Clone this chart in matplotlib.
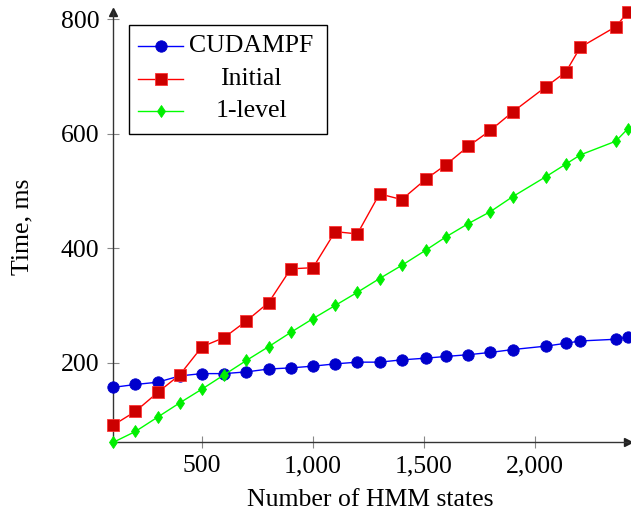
import matplotlib
matplotlib.use("Agg")
import matplotlib.pyplot as plt
from matplotlib.lines import Line2D
from matplotlib.patches import Rectangle
from matplotlib.ticker import FuncFormatter

# ---- data ----
states = [100, 200, 300, 400, 500, 600, 700, 800, 900, 1000, 1100, 1200, 1300,
          1400, 1510, 1600, 1700, 1800, 1900, 2050, 2140, 2205, 2365, 2420]
cudampf = [157, 162, 166, 177, 181, 181, 184, 189, 191, 194, 198, 201, 201,
           205, 208, 211, 214, 218, 223, 229, 234, 238, 241, 245]
initial = [91, 115, 148, 179, 228, 244, 273, 305, 364, 366, 429, 425, 495,
           485, 521, 546, 578, 606, 638, 682, 708, 751, 787, 813]
level1 = [61, 80, 105, 130, 154, 179, 204, 228, 253, 277, 300, 323, 347,
          370, 397, 420, 443, 464, 490, 525, 547, 563, 587, 609]
series_names = ["CUDAMPF", "Initial", "1-level"]
xticks = [500, 1000, 1500, 2000]
yticks = [200, 400, 600, 800]

plt.rcParams['font.family'] = ['Liberation Serif', 'DejaVu Serif']
FS = 18.5

W, H = 631, 516
fig = plt.figure(figsize=(W / 100, H / 100), dpi=100)
ax = fig.add_axes([113.3 / W, 1 - 442.3 / H, (628 - 113.3) / W, (442.3 - 11.8) / H])

styles = [
    dict(color='#0000FF', marker='o', ms=8.2, mfc='#0000CC', mec='#0000CC'),
    dict(color='#FF0000', marker='s', ms=8.2, mfc='#CC0000', mec='#FF3333'),
    dict(color='#00FF00', marker='d', ms=6.2, mfc='#00EE00', mec='#00EE00'),
]
for ys, st in zip([cudampf, initial, level1], styles):
    ax.plot(states, ys, lw=1.0, clip_on=False, zorder=3, mew=0.6, **st)

ax.set_xlim(100, 2420)
ax.set_ylim(61, 813)
ax.set_xticks(xticks)
ax.set_yticks(yticks)
ax.xaxis.set_major_formatter(FuncFormatter(lambda v, p: f"{int(v):,}"))
for s in ['top', 'right']:
    ax.spines[s].set_visible(False)
for s in ['left', 'bottom']:
    ax.spines[s].set_color('#333333')
    ax.spines[s].set_linewidth(1.0)
ax.tick_params(direction='inout', length=9, width=0.8, color='#888888', labelsize=FS)
ax.tick_params(axis='x', pad=5)
ax.tick_params(axis='y', pad=5.5)
ax.plot(1, 0, marker='>', color='#222222', ms=6, transform=ax.transAxes, clip_on=False)
ax.plot(0, 1, marker='^', color='#222222', ms=6, transform=ax.transAxes, clip_on=False)

ax.set_xlabel("Number of HMM states", fontsize=FS, labelpad=8)
ax.set_ylabel("Time, ms", fontsize=FS, labelpad=20)

# ---- legend (pgfplots style, centred text) ----
tf = fig.transFigure
fig.patches.append(Rectangle((129.3 / W, 1 - 134 / H), (327.3 - 129.3) / W, (134 - 25) / H,
                             transform=tf, facecolor='white', edgecolor='black', lw=1.0, zorder=5))
rows = [46, 79, 111]
for name, st, ry in zip(series_names, styles, rows):
    fy = 1 - ry / H
    fig.lines.append(Line2D([138 / W, 183 / W], [fy, fy], transform=tf, lw=1.0,
                            color=st['color'], zorder=6))
    mk = Line2D([160.5 / W], [fy], transform=tf, zorder=7, linestyle='none', mew=0.6, **st)
    fig.lines.append(mk)
    fig.text(251 / W, fy, name, ha='center', va='center', fontsize=FS, zorder=7)

fig.savefig("out.png", dpi=100)
